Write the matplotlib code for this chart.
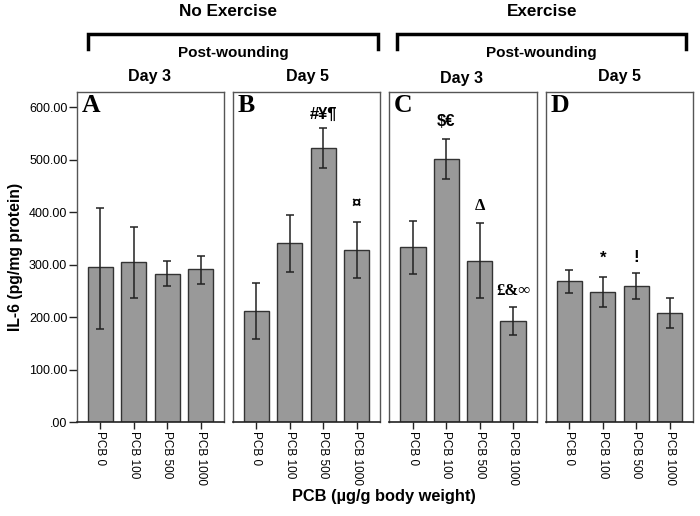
import matplotlib
matplotlib.use("Agg")
import matplotlib.pyplot as plt
from matplotlib.lines import Line2D
import numpy as np

plt.rcParams['font.family'] = ['Liberation Sans', 'DejaVu Sans']

categories = ["PCB 0", "PCB 100", "PCB 500", "PCB 1000"]
panel_letters = ["A", "B", "C", "D"]
day_labels = ["Day 3", "Day 5", "Day 3", "Day 5"]
group_labels = ["No Exercise", "Exercise"]
sub_label = "Post-wounding"

# means and error bar limits (low, high)
means_A = [296, 305, 283, 292]
low_A = [178, 236, 260, 263]
high_A = [408, 372, 308, 317]

means_B = [212, 341, 523, 328]
low_B = [158, 287, 485, 274]
high_B = [265, 395, 561, 381]

means_C = [334, 502, 308, 193]
low_C = [282, 463, 237, 166]
high_C = [383, 540, 380, 219]

means_D = [269, 249, 260, 209]
low_D = [247, 220, 234, 180]
high_D = [291, 277, 284, 236]

means = [means_A, means_B, means_C, means_D]
lows = [low_A, low_B, low_C, low_D]
highs = [high_A, high_B, high_C, high_D]

# annotations: (panel, bar index, y, text, serif?)
annotations = [
    (1, 2, 587, "#¥¶", False),
    (1, 3, 418, "¤", False),
    (2, 1, 573, "$€", False),
    (2, 2, 412, "Δ", True),
    (2, 3, 250, "£&∞", True),
    (3, 1, 312, "*", False),
    (3, 2, 314, "!", False),
]

yticks = [0, 100, 200, 300, 400, 500, 600]
ytick_labels = [".00", "100.00", "200.00", "300.00", "400.00", "500.00", "600.00"]

W, H = 700, 516
fig = plt.figure(figsize=(W / 100, H / 100), dpi=100)

panel_left_px = [77, 233, 389.5, 546]
panel_w_px = 147
top_px, bottom_px = 92, 422.3
ymax = (bottom_px - top_px) / 0.525

bar_color = "#999999"
edge_color = "#333333"

axes = []
for i in range(4):
    ax = fig.add_axes([panel_left_px[i] / W, 1 - bottom_px / H,
                       panel_w_px / W, (bottom_px - top_px) / H])
    x = np.arange(len(categories))
    m = np.array(means[i])
    lo = m - np.array(lows[i])
    hi = np.array(highs[i]) - m
    ax.bar(x, m, width=0.76, color=bar_color, edgecolor=edge_color, linewidth=1.0, zorder=2)
    ax.errorbar(x, m, yerr=[lo, hi], fmt="none", ecolor="#222222", elinewidth=1.1,
                capsize=3, capthick=1.1, zorder=3)
    ax.set_xlim(-0.7, 3.7)
    ax.set_ylim(0, ymax)
    ax.set_xticks(x)
    ax.set_xticklabels(categories, rotation=-90, fontsize=8.5, va="top", ha="center")
    ax.tick_params(axis="x", length=5, width=1, pad=1, color="#222222")
    if i == 0:
        ax.set_yticks(yticks)
        ax.set_yticklabels(ytick_labels, fontsize=9)
        ax.tick_params(axis="y", length=6, width=1, pad=1, color="#222222")
    else:
        ax.set_yticks([])
    for s in ax.spines.values():
        s.set_color("#555555")
        s.set_linewidth(1.0)
    ax.spines["bottom"].set_color("#222222")
    ax.spines["bottom"].set_linewidth(1.2)
    ax.text(0.03, 0.995, panel_letters[i], transform=ax.transAxes, ha="left", va="top",
            fontsize=18.5, fontweight="bold", family=["Liberation Serif", "DejaVu Serif"])
    axes.append(ax)

for (p, b, y, t, serif) in annotations:
    fam = ["Liberation Serif", "DejaVu Serif"] if serif else ["Liberation Sans", "DejaVu Sans"]
    axes[p].text(b, y, t, ha="center", va="center", fontsize=12, fontweight="bold", family=fam)

axes[0].set_ylabel("IL-6 (pg/mg protein)", fontsize=11.3, fontweight="bold", labelpad=4)

# x label
fig.text(384 / W, 1 - 497 / H, "PCB (µg/g body weight)", ha="center", va="center",
         fontsize=11.8, fontweight="bold")

# Day labels
day_x = [149, 307, 462, 619]
day_y = [77, 77, 79, 77]
for lbl, dx, dy in zip(day_labels, day_x, day_y):
    fig.text(dx / W, 1 - dy / H, lbl, ha="center", va="center", fontsize=11.5, fontweight="bold")

# group headers and brackets
grp_x = [228, 542]
sub_x = [233, 541]
brackets = [(88, 378), (397, 686)]
for gl, gx, sx, (bl, br) in zip(group_labels, grp_x, sub_x, brackets):
    fig.text(gx / W, 1 - 12 / H, gl, ha="center", va="center", fontsize=12.3, fontweight="bold")
    fig.text(sx / W, 1 - 53 / H, sub_label, ha="center", va="center", fontsize=11, fontweight="bold")
    xs = np.array([bl, bl, br, br]) / W
    ys = 1 - np.array([49, 33.5, 33.5, 49]) / H
    fig.add_artist(Line2D(xs, ys, color="black", linewidth=2.5, solid_joinstyle="miter",
                          transform=fig.transFigure))

fig.savefig("out.png", dpi=100)
